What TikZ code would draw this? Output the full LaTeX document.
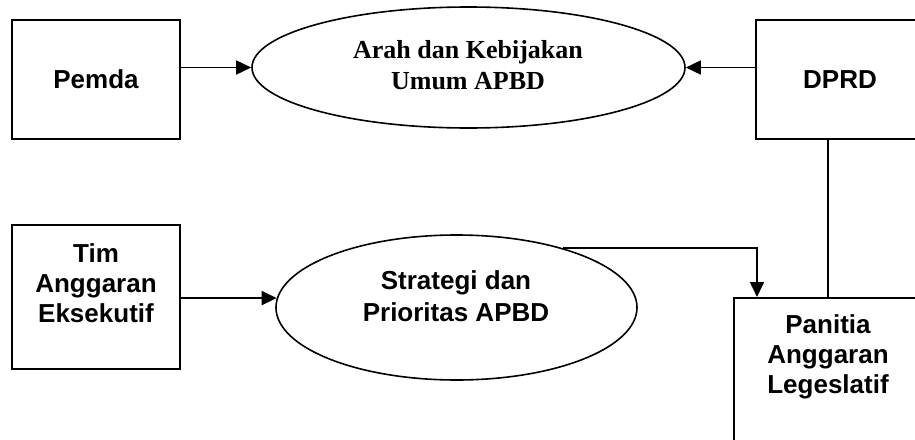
\documentclass[tikz,border=0pt]{standalone}
\usepackage{fontspec}
\setmainfont{Liberation Sans}
\newfontfamily\serifb{Liberation Serif}
\usetikzlibrary{arrows.meta,shapes.geometric}
\begin{document}
\begin{tikzpicture}[x=1pt,y=-1pt,
  box/.style={draw,line width=1.6pt,rectangle,inner sep=0pt},
  ell/.style={draw,line width=1.6pt,ellipse,inner sep=0pt},
  lbl/.style={font=\fontsize{26}{30}\selectfont\bfseries,align=center,inner sep=0pt},
  arr/.style={line width=1.6pt,-{Triangle[length=15pt,width=14pt]}},
  conn/.style={line width=1.6pt}]
\useasboundingbox (0,0) rectangle (915,439);
\clip (0,0) rectangle (915,439);
% boxes
\node[box,minimum width=168pt,minimum height=119pt,lbl] (pemda) at (96,79.5) {Pemda};
\node[box,minimum width=168pt,minimum height=119pt,lbl] (dprd) at (840,79.5) {DPRD};
\node[box,minimum width=168pt,minimum height=144pt] (tim) at (96,297) {};
\node[lbl] (timtext) at (96,283) {Tim\\Anggaran\\Eksekutif};
\node[box,minimum width=191pt,minimum height=200pt,anchor=north west] (panitia) at (733,297) {};
\node[lbl] (pantext) at (828,356.5) {Panitia\\Anggaran\\Legeslatif};
% ellipses
\node[ell,minimum width=433pt,minimum height=121pt] (ell1) at (468.5,67.5) {};
\node[lbl,font=\serifb\fontsize{26}{31}\selectfont\bfseries] (ell1text) at (468,65) {Arah dan Kebijakan\\Umum APBD};
\node[ell,minimum width=361pt,minimum height=145pt] (ell2) at (456.5,307.5) {};
\node[lbl,font=\fontsize{26}{32}\selectfont\bfseries] (ell2text) at (456,296) {Strategi dan\\Prioritas APBD};
% connectors
\draw[arr] (pemda.east |- ell1.west) -- (ell1.west);
\draw[arr] (dprd.west |- ell1.east) -- (ell1.east);
\draw[arr] (tim.east |- ell2.177) -- (ell2.177);
\draw[arr] (ell2.29) -| ([xshift=24pt]panitia.north west);
\draw[conn] ([xshift=-12pt]dprd.south) -- ([xshift=-12pt]dprd.south |- panitia.north);
\end{tikzpicture}
\end{document}
